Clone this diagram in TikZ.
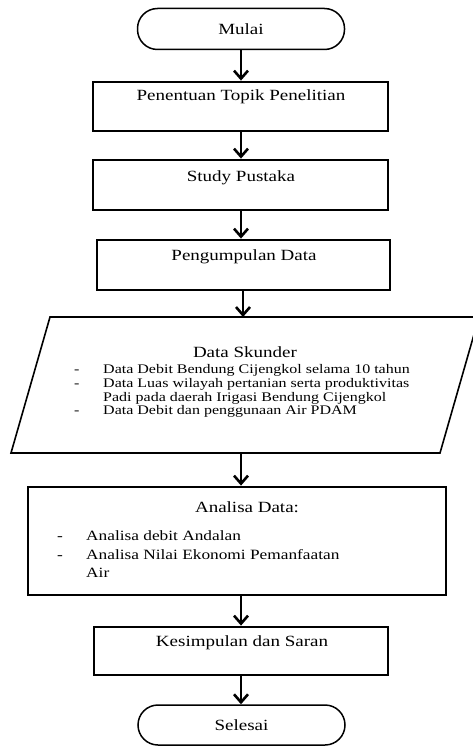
\documentclass[tikz,border=0pt]{standalone}
\usepackage{fontspec}
\setmainfont{Liberation Serif}
\usetikzlibrary{arrows.meta}
\newcommand\vsq[1]{\scalebox{1}[0.82]{#1}}
\begin{document}
\begin{tikzpicture}[x=1pt,y=-1pt,
  box/.style={draw, line width=2.8pt, minimum width=#1, inner sep=0pt},
  term/.style={draw, line width=1.5pt, rounded corners=20pt, minimum width=207pt, minimum height=41pt, inner sep=0pt, font=\fontsize{19}{22}\selectfont},
  lbl/.style={inner sep=0pt, font=\fontsize{19}{22}\selectfont},
  itemA/.style={inner sep=0pt, anchor=base west, font=\fontsize{16}{18}\selectfont},
  itemB/.style={inner sep=0pt, anchor=base west, font=\fontsize{17.3}{20}\selectfont},
  arr/.style={line width=2.8pt, -{Straight Barb[length=8pt,width=14pt,line width=2.6pt]}},
  para/.style={draw, line width=1.6pt, line join=miter}
]
\useasboundingbox (0,0) rectangle (473,746);

% Terminal start
\node[term] (mulai) at (241,29) {\vsq{Mulai}};

% Boxes
\node[box=295pt, minimum height=49pt] (pen) at (240.5,106.5) {};
\node[lbl] (pent) at (241,97) {\vsq{Penentuan Topik Penelitian}};

\node[box=295pt, minimum height=50pt] (stu) at (240.5,185) {};
\node[lbl] (stut) at (241,178) {\vsq{Study Pustaka}};

\node[box=293pt, minimum height=50pt] (peng) at (243.5,265) {};
\node[lbl] (pengt) at (244,257) {\vsq{Pengumpulan Data}};

% Parallelogram
\coordinate (p1) at (50,317);
\coordinate (p2) at (479,317);
\coordinate (p3) at (440,453);
\coordinate (p4) at (11,453);
\draw[para] (p1) -- (p2) -- (p3) -- (p4) -- cycle;
\coordinate (skt) at (243,317);
\coordinate (skb) at (241,453);
\node[lbl] (skh) at (245,352) {\vsq{Data Skunder}};
\node[itemA] (sd1) at (74,373) {\vsq{-}};
\node[itemA] (s1) at (103,373) {\vsq{Data Debit Bendung Cijengkol selama 10 tahun}};
\node[itemA] (sd2) at (74,387) {\vsq{-}};
\node[itemA] (s2) at (103,387) {\vsq{Data Luas wilayah pertanian serta produktivitas}};
\node[itemA] (s3) at (103,401) {\vsq{Padi pada daerah Irigasi Bendung Cijengkol}};
\node[itemA] (sd4) at (74,414) {\vsq{-}};
\node[itemA] (s4) at (103,414) {\vsq{Data Debit dan penggunaan Air PDAM}};

% Analisa box
\node[box=418pt, minimum height=108pt] (ana) at (237,541) {};
\node[lbl] (anah) at (247,507) {\vsq{Analisa Data:}};
\node[itemB] (ad1) at (57,540) {\vsq{-}};
\node[itemB] (a1) at (86,540) {\vsq{Analisa debit Andalan}};
\node[itemB] (ad2) at (57,559) {\vsq{-}};
\node[itemB] (a2) at (86,559) {\vsq{Analisa Nilai Ekonomi Pemanfaatan}};
\node[itemB] (a3) at (86,577) {\vsq{Air}};

% Kesimpulan
\node[box=294pt, minimum height=48pt] (kes) at (241,651) {};
\node[lbl] (kest) at (242,643) {\vsq{Kesimpulan dan Saran}};

% Terminal end
\node[term, minimum height=40pt] (sel) at (241.5,725) {\vsq{Selesai}};

% Arrows
\draw[arr] (mulai.south) -- (mulai.south |- pen.north);
\draw[arr] (pen.south -| mulai.south) -- (mulai.south |- stu.north);
\draw[arr] (stu.south -| mulai.south) -- (mulai.south |- peng.north);
\draw[arr] (peng.south -| skt) -- (skt);
\draw[arr] (skb) -- (skb |- ana.north);
\draw[arr] (ana.south -| kes.south) -- (kes.north);
\draw[arr] (kes.south) -- (kes.south |- sel.north);
\end{tikzpicture}
\end{document}
